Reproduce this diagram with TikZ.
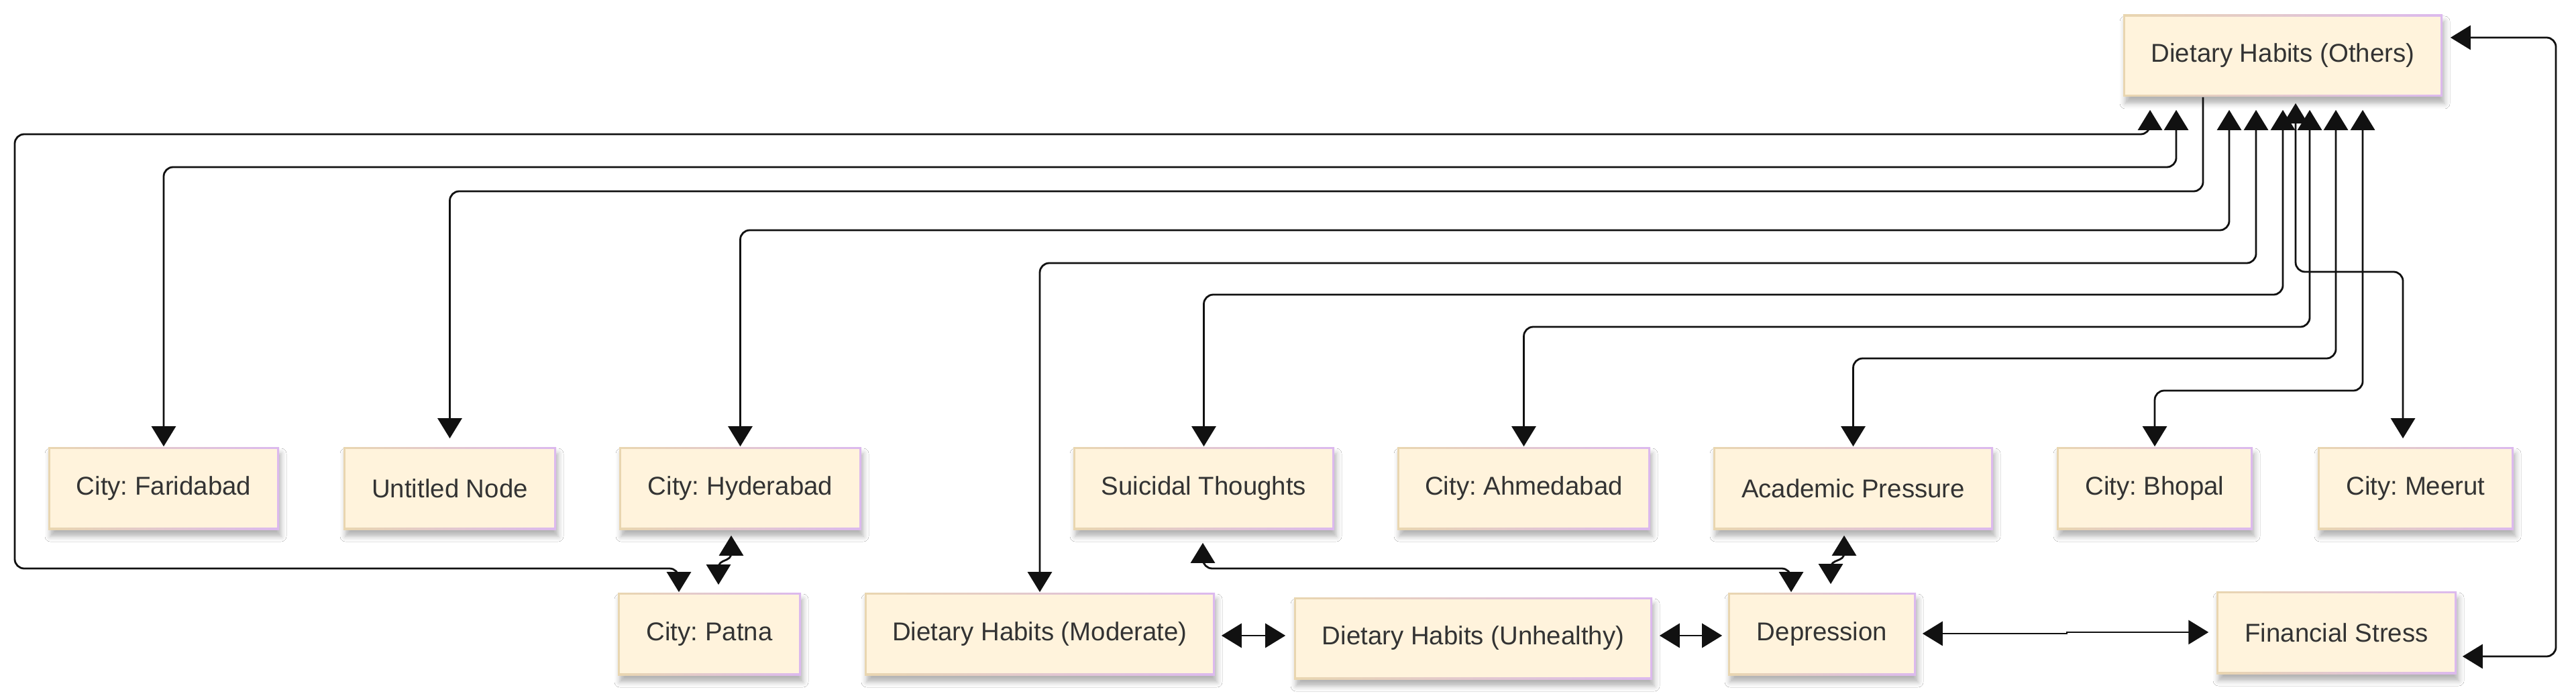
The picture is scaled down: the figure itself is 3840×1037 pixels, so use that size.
\documentclass[tikz,border=0pt]{standalone}
\usepackage{fontspec}
\setmainfont{Liberation Sans}
\usetikzlibrary{arrows.meta,shadows.blur}
\definecolor{cream}{HTML}{FFF3DC}
\definecolor{bdL}{HTML}{E9D6B0}
\definecolor{bdR}{HTML}{DCB9EE}
\definecolor{txt}{HTML}{333333}
\definecolor{ln}{HTML}{111111}
\frenchspacing
\begin{document}
\begin{tikzpicture}[x=0.25pt,y=-0.25pt,
  box/.style={rectangle, inner sep=0pt, minimum height=30.75pt,
    left color=bdL, right color=bdR,
    font=\fontsize{9.6pt}{11pt}\selectfont, text=txt,
    blur shadow={shadow xshift=0.75pt, shadow yshift=-2.5pt, shadow blur radius=2pt, shadow opacity=30},
    path picture={\fill[cream] ([xshift=0.75pt,yshift=-0.75pt]path picture bounding box.north west) rectangle ([xshift=-0.75pt,yshift=0.75pt]path picture bounding box.south east);}},
  link/.style={draw=ln, line width=0.7pt, rounded corners=3.5pt},
  bi/.style={link, {Triangle[width=9pt,length=7.5pt]}-{Triangle[width=9pt,length=7.5pt]}},
  uni/.style={link, -{Triangle[width=9pt,length=7.5pt]}}]
\fill[white] (0,0) rectangle (3840,1037);
\useasboundingbox (0,0) rectangle (3840,1037);

% nodes
\node[box, minimum width=119pt, minimum height=30.5pt] (oth) at (3403,83) {Dietary Habits (Others)};
\node[box, minimum width=86pt] (far) at (244,727.5) {City: Faridabad};
\node[box, minimum width=79.25pt] (unt) at (670.5,727.5) {Untitled Node};
\node[box, minimum width=90.25pt] (hyd) at (1103.5,727.5) {City: Hyderabad};
\node[box, minimum width=97.25pt] (sui) at (1794.5,727.5) {Suicidal Thoughts};
\node[box, minimum width=94.25pt] (ahm) at (2271.5,727.5) {City: Ahmedabad};
\node[box, minimum width=104.25pt] (aca) at (2762.5,727.5) {Academic Pressure};
\node[box, minimum width=73pt] (bho) at (3212,727.5) {City: Bhopal};
\node[box, minimum width=73pt] (mee) at (3601,727.5) {City: Meerut};
\node[box, minimum width=68.25pt] (pat) at (1057.5,944.5) {City: Patna};
\node[box, minimum width=130.5pt] (mod) at (1550,944.5) {Dietary Habits (Moderate)};
\node[box, minimum width=133.5pt, minimum height=30.5pt] (unh) at (2196,951) {Dietary Habits (Unhealthy)};
\node[box, minimum width=70pt] (dep) at (2716,944.5) {Depression};
\node[box, minimum width=89.5pt] (fin) at (3483,942.5) {Financial Stress};

% connectors from Dietary Habits (Others)
\draw[bi, shorten <=4.75pt] (oth.south -| 3205,0) -- (3205,200) -- (22,200) -- (22,847) -- (1012,847) -- (pat.north -| 1012,0);
\draw[bi, shorten <=4.75pt] (oth.south -| 3244,0) -- (3244,249) -| (far.north);
\draw[uni, shorten >=3pt] (oth.south -| 3284,0) -- (3284,285) -| (unt.north);
\draw[bi, shorten <=4.75pt] (oth.south -| 3323,0) -- (3323,343) -| (hyd.north);
\draw[bi, shorten <=4.75pt] (oth.south -| 3363,0) -- (3363,392) -| (mod.north);
\draw[bi, shorten <=4.75pt] (oth.south -| 3403,0) -- (3403,439) -| (sui.north);
\draw[bi, shorten <=4.75pt] (oth.south -| 3443,0) -- (3443,487) -| (ahm.north);
\draw[bi, shorten <=4.75pt] (oth.south -| 3482,0) -- (3482,534) -| (aca.north);
\draw[bi, shorten <=4.75pt] (oth.south -| 3522,0) -- (3522,582) -| (bho.north);
\draw[bi, shorten <=2.25pt, shorten >=3pt] (oth.south -| 3422,0) -- (3422,405) -| (mee.north -| 3582,0);
\draw[bi, shorten <=2.75pt, shorten >=2pt] (oth.east |- 0,56) -| (3810,978) -- (fin.east |- 0,978);

% other connectors
\draw[bi, sharp corners, shorten <=2pt, shorten >=2.75pt] (hyd.south -| 1090,0) -- (1090,824) .. controls (1090,838) and (1071,832) .. (1071,846) -- (pat.north -| 1071,0);
\draw[bi, sharp corners, shorten <=2pt, shorten >=3pt] (aca.south -| 2749,0) -- (2749,824) .. controls (2749,838) and (2729,832) .. (2729,846) -- (dep.north -| 2729,0);
\draw[bi, shorten <=4.75pt] (sui.south -| 1793,0) -- (1793,847) -| (dep.north -| 2670,0);
\draw[bi, sharp corners, shorten <=2.25pt, shorten >=3pt] (mod.east |- 0,947) -- (unh.west |- 0,947);
\draw[bi, sharp corners, shorten <=2.5pt, shorten >=2pt] (unh.east |- 0,947) -- (dep.west |- 0,947);
\draw[bi, sharp corners, shorten <=2.25pt, shorten >=2.75pt] (dep.east |- 0,944) -- (3081,944) -- (3081,942) -- (fin.west |- 0,942);
\end{tikzpicture}
\end{document}
